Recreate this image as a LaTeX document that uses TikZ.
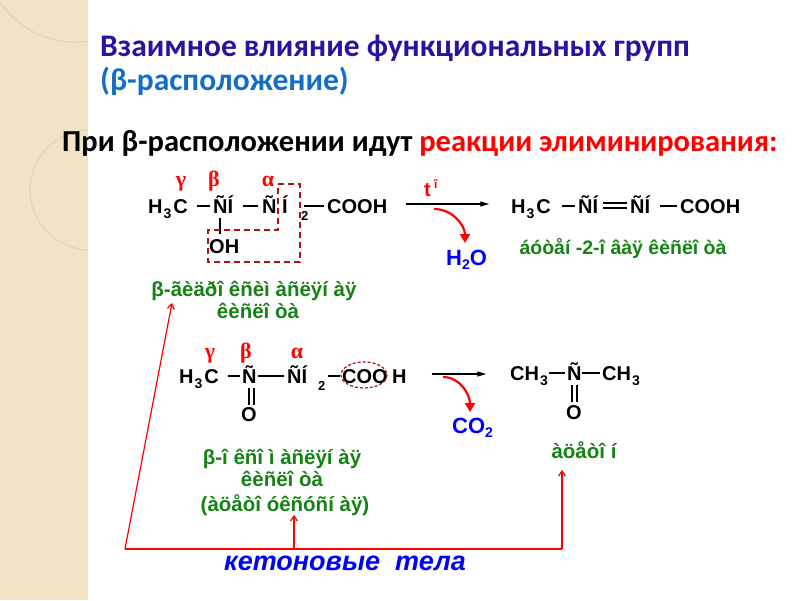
\documentclass[tikz,border=0pt]{standalone}
\usepackage{fontspec}
\setmainfont{Liberation Sans}
\newfontfamily\titlefont{Carlito}
\newfontfamily\grfont{Liberation Serif}
\usetikzlibrary{arrows.meta}
\definecolor{titleblue}{RGB}{40,20,160}
\definecolor{subblue}{RGB}{20,110,200}
\definecolor{grn}{RGB}{20,130,20}
\definecolor{dred}{RGB}{170,20,20}
\definecolor{beige}{RGB}{240,228,196}
\definecolor{arcc}{RGB}{228,214,178}
\newcommand{\sbs}[1]{\kern1pt\raisebox{-5pt}{\fontsize{14}{14}\selectfont #1}\kern2pt}
\begin{document}
\begin{tikzpicture}[x=1pt,y=-1pt,
  chem/.style={anchor=base west,inner sep=0pt,font=\fontsize{20}{20}\selectfont\bfseries},
  greek/.style={anchor=base,inner sep=0pt,text=red,font=\grfont\fontsize{22}{22}\selectfont\bfseries},
  glabel/.style={anchor=base,inner sep=0pt,text=grn,font=\fontsize{20.5}{20.5}\selectfont\bfseries},
  bond/.style={line width=1.1pt},
  rline/.style={red,line width=1.2pt},
  rarrow/.style={red,line width=1.2pt,-{Straight Barb[length=5pt,width=7pt]}},
  curv/.style={red,line width=2.2pt,-{Triangle[length=9pt,width=10pt]}},
  rxn/.style={line width=1.2pt,-{Triangle[length=9pt,width=5pt]}}]
\useasboundingbox (0,0) rectangle (800,600);
\fill[white] (0,0) rectangle (800,600);
\fill[beige] (0,0) rectangle (88,600);
\draw[white,line width=1pt] (88,0) -- (88,600);
\begin{scope}
\clip (0,0) rectangle (88,600);
\draw[arcc,line width=1.2pt] (70,0) arc[start angle=0,end angle=-80,radius=70];
\draw[arcc,line width=1.2pt] (120,30) arc[start angle=60,end angle=180,radius=90];
\draw[arcc,line width=1.2pt] (90,190) circle[radius=60];
\end{scope}
% titles
\node (t1) [anchor=base west,inner sep=0pt,text=titleblue,font=\titlefont\fontsize{31.5}{31.5}\selectfont\bfseries] at (100,56) {Взаимное влияние функциональных групп};
\node (t2) [anchor=base west,inner sep=0pt,text=subblue,font=\titlefont\fontsize{31.5}{31.5}\selectfont\bfseries] at (100,90) {(β-расположение)};
\node (st) [anchor=base west,inner sep=0pt,font=\titlefont\fontsize{30.5}{30.5}\selectfont\bfseries] at (62,151) {При β-расположении идут \textcolor{red}{реакции элиминирования:}};
% row 1
\node (g1) [greek] at (181,186) {γ};
\node (b1) [greek] at (214,186) {β};
\node (a1) [greek] at (268,186) {α};
\node (m1) [chem] at (148,213) {H\sbs{3}C};
\node (m2) [chem] at (213,213) {ÑÍ};
\node (m3) [chem] at (262,213) {Ñ Í};
\node (m4) [chem,font=\fontsize{13}{13}\selectfont\bfseries] at (301,220) {2};
\node (m5) [chem] at (327,213) {COOH};
\node (m6) [chem] at (209,253) {OH};
\draw[bond] (197,206) -- (210,206);
\draw[bond] (243,206) -- (258,206);
\draw[bond] (304,206) -- (324,206);
\draw[bond] (220,218) -- (220,234);
\draw[dred,line width=1.5pt,dash pattern=on 6pt off 4pt] (278,184) -- (300,184) -- (300,262) -- (208,262) -- (208,230) -- (278,230) -- cycle;
\node (r1a) [inner sep=0pt] at (405,204) {};
\node (r1b) [inner sep=0pt] at (490,204) {};
\draw[rxn] (r1a) -- (r1b);
\node (tt) [anchor=base west,inner sep=0pt,text=red,font=\fontsize{20}{20}\selectfont\bfseries] at (424,196) {t\,\raisebox{8pt}{\fontsize{12}{12}\selectfont î}};
\node (h2o) [anchor=base west,inner sep=0pt,text=blue,font=\fontsize{22}{22}\selectfont\bfseries] at (446,265) {H\raisebox{-4pt}{\fontsize{14}{14}\selectfont 2}O};
\coordinate (c1s) at (434,209);
\coordinate (c1e) at (465,243);
\draw[curv] (c1s) to[out=0,in=90] (c1e);
\node (p1) [chem] at (511,213) {H\sbs{3}C};
\node (p2) [chem] at (578,213) {ÑÍ};
\node (p3) [chem] at (630,213) {ÑÍ};
\node (p4) [chem] at (680,213) {COOH};
\draw[bond] (562,206) -- (575,206);
\draw[bond] (603,203) -- (627,203);
\draw[bond] (603,208) -- (627,208);
\draw[bond] (660,206) -- (677,206);
\node (l1) [glabel,font=\fontsize{19.5}{19.5}\selectfont\bfseries] at (623,254) {áóòåí -2-î âàÿ êèñëî òà};
\node (l2) [glabel] at (254,296) {β-ãèäðî êñèì àñëÿí àÿ};
\node (l3) [glabel] at (258,318) {êèñëî òà};
% row 2
\node (g2) [greek] at (210,358) {γ};
\node (b2) [greek] at (246,358) {β};
\node (a2) [greek] at (297,358) {α};
\node (n1) [chem] at (179,383) {H\sbs{3}C};
\node (n2) [chem] at (242,383) {Ñ};
\node (n3) [chem] at (287,383) {ÑÍ};
\node (n4) [chem,font=\fontsize{13}{13}\selectfont\bfseries] at (318,390) {2};
\node (n5) [chem] at (342,383) {COO};
\node (n6) [chem] at (392,383) {H};
\node (n7) [chem] at (241,421) {O};
\draw[bond] (228,376) -- (240,376);
\draw[bond] (258,376) -- (284,376);
\draw[bond] (328,376) -- (340,376);
\draw[bond] (249,388) -- (249,405);
\draw[bond] (254,388) -- (254,405);
\draw[dred,line width=1.2pt,dash pattern=on 3pt off 2pt] (364,375) ellipse[x radius=23,y radius=13];
\node (r2a) [inner sep=0pt] at (431,374) {};
\node (r2b) [inner sep=0pt] at (487,374) {};
\draw[rxn] (r2a) -- (r2b);
\coordinate (c2s) at (443,377);
\coordinate (c2e) at (470,412);
\draw[curv] (c2s) to[out=0,in=90] (c2e);
\node (co2) [anchor=base west,inner sep=0pt,text=blue,font=\fontsize{22}{22}\selectfont\bfseries] at (452,433) {CO\raisebox{-4pt}{\fontsize{14}{14}\selectfont 2}};
\node (q1) [chem] at (510,380) {CH\sbs{3}};
\node (q2) [chem] at (567,380) {Ñ};
\node (q3) [chem] at (602,380) {CH\sbs{3}};
\node (q4) [chem] at (566,419) {O};
\draw[bond] (549,373) -- (565,373);
\draw[bond] (582,373) -- (600,373);
\draw[bond] (572,385) -- (572,402);
\draw[bond] (577,385) -- (577,402);
\node (l4) [glabel] at (282,464) {β-î êñî ì àñëÿí àÿ};
\node (l5) [glabel] at (282,486) {êèñëî òà};
\node (l6) [glabel] at (285,511) {(àöåòî óêñóñí àÿ)};
\node (l7) [glabel] at (584,458) {àöåòî í};
% ketone bodies
\node (kt) [anchor=base,inner sep=0pt,text=blue,font=\fontsize{27}{27}\selectfont\bfseries\itshape] at (345,570) {кетоновые\ \ тела};
\coordinate (k0) at (125,549);
\coordinate (k1) at (294,549);
\coordinate (k2) at (562,549);
\draw[rline] (k0) -- (k2);
\draw[rarrow] (k0) -- (172,303);
\draw[rarrow] (k1) -- (294,515);
\draw[rarrow] (k2) -- (562,470);
\end{tikzpicture}
\end{document}
